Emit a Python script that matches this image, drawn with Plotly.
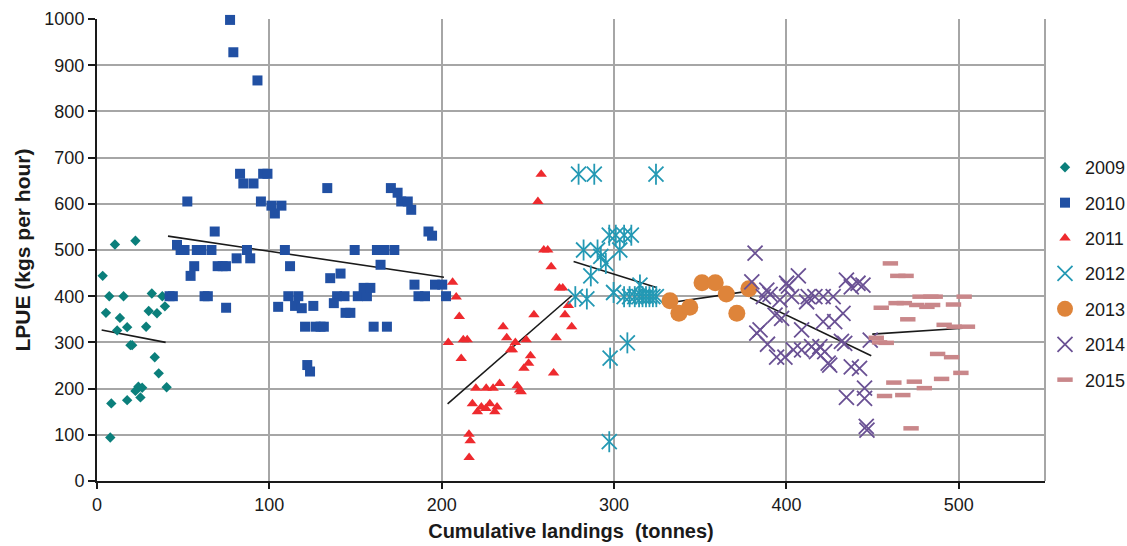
import plotly.graph_objects as go

# ---- data ----
x2009 = [3.3, 5.2, 7.1, 7.7, 8.3, 10.4, 11.7, 13.3, 15.4, 17.5, 17.5, 19.4, 20.4, 22.3, 22.3, 24.0, 25.2, 26.2,
         28.5, 30.0, 31.8, 33.5, 34.8, 35.8, 37.9, 39.4, 40.4]
y2009 = [444, 364, 400, 94, 168, 512, 326, 353, 400, 175, 333, 294, 294, 520, 195, 204, 181, 202,
         334, 368, 406, 268, 363, 233, 400, 378, 203]

x2010 = [77.2, 79.1, 93.1, 83.0, 84.9, 90.8, 96.4, 98.9, 52.4, 95.1, 101.2, 107.0, 103.2, 68.3, 46.4, 48.5,
         50.8, 57.9, 60.4, 66.4, 87.0, 109.0, 81.0, 88.9, 56.4, 54.3, 70.0, 72.9, 74.8, 42.1, 44.0, 62.4,
         64.3, 74.9, 105.1, 111.0, 112.0, 133.6, 170.5, 174.4, 176.5, 180.3, 182.3, 192.3, 194.4, 149.5,
         162.4, 166.5, 172.5, 164.5, 135.3, 141.3, 184.2, 196.1, 200.3, 116.8, 139.3, 143.6, 151.3, 156.6,
         154.7, 158.6, 186.5, 190.3, 202.5, 114.9, 118.8, 125.5, 137.4, 144.2, 147.0, 120.7, 126.8, 129.7,
         131.6, 160.5, 168.2, 122.0, 123.6]
y2010 = [998, 928, 867, 665, 644, 644, 665, 665, 605, 605, 596, 596, 579, 540, 511, 500,
         500, 500, 500, 500, 500, 500, 482, 482, 465, 444, 465, 465, 465, 400, 400, 400,
         400, 375, 377, 400, 465, 634, 634, 624, 605, 605, 587, 540, 531, 500,
         500, 500, 500, 468, 439, 449, 425, 425, 425, 400, 400, 400, 400, 400,
         418, 418, 400, 400, 400, 379, 374, 379, 385, 364, 364, 334, 334, 334,
         334, 334, 334, 251, 237]

x2011 = [257.7, 255.8, 259.2, 261.5, 263.5, 268.3, 270.2, 206.3, 208.4, 210.2, 203.8, 212.5, 214.8, 211.3,
         215.8, 216.5, 215.9, 219.8, 217.8, 220.7, 223.0, 225.8, 229.8, 227.9, 225.6, 230.8, 232.1, 233.6,
         235.6, 237.7, 242.7, 240.0, 241.0, 249.0, 253.5, 251.5, 250.4, 247.7, 243.8, 246.1, 245.2, 264.9,
         266.4, 271.5, 273.5, 275.4]
y2011 = [664, 605, 500, 500, 464, 418, 418, 430, 398, 356, 300, 306, 306, 265,
         101, 87, 51, 201, 167, 150, 160, 201, 201, 167, 157, 150, 160, 211,
         334, 310, 300, 284, 284, 306, 360, 271, 255, 244, 206, 193, 197, 234,
         310, 360, 380, 334]

x2012 = [279.4, 288.5, 324.3, 297.2, 301.0, 305.8, 310.0, 282.3, 290.4, 303.3, 292.3, 295.2, 286.5, 277.5,
         284.2, 299.7, 305.8, 309.0, 312.0, 314.5, 316.5, 318.5, 320.5, 322.5, 324.5, 315.0, 307.7, 297.7,
         297.2]
y2012 = [664, 664, 664, 532, 532, 532, 532, 500, 500, 500, 486, 471, 444, 399,
         394, 408, 399, 399, 399, 399, 399, 399, 399, 399, 399, 424, 299, 266,
         85]

x2013 = [332.4, 337.6, 343.9, 351.0, 358.7, 365.1, 371.2, 378.2]
y2013 = [390, 363, 376, 429, 429, 405, 363, 416]

x2014 = [381.8, 379.9, 390.5, 386.6, 396.2, 401.1, 406.9, 403.0, 393.4, 397.2, 384.7, 382.8, 389.0, 394.3,
         399.1, 404.0, 408.8, 408.8, 412.6, 416.5, 421.3, 427.1, 411.7, 414.6, 419.4, 417.4, 422.2, 421.3,
         428.0, 432.8, 424.2, 425.1, 431.9, 433.8, 434.8, 437.6, 441.5, 444.4, 437.6, 442.4, 434.8, 445.3,
         445.3, 446.3, 446.7, 448.6, 388.6, 400.1]
y2014 = [493, 431, 404, 399, 392, 422, 444, 399, 359, 352, 327, 320, 296, 268,
         268, 284, 284, 327, 399, 399, 399, 399, 388, 291, 291, 280, 280, 345,
         345, 363, 255, 251, 302, 298, 435, 420, 428, 424, 247, 244, 181, 201,
         179, 118, 110, 305, 413, 428]

x2015 = [460.3, 464.6, 469.4, 463.6, 468.4, 455.0, 477.5, 483.8, 486.3, 503.1, 475.6, 481.5, 484.8, 496.9,
         470.4, 491.5, 497.3, 505.0, 452.1, 457.9, 454.0, 487.7, 495.8, 501.2, 462.3, 474.2, 480.0, 490.0,
         456.9, 467.5, 472.3]
y2015 = [471, 444, 444, 385, 385, 375, 399, 399, 399, 399, 381, 377, 381, 382,
         350, 338, 334, 334, 310, 299, 300, 275, 268, 234, 213, 215, 201, 221,
         184, 186, 114]

# trend lines (start/end) per year
trend_x = {"2009": [2.7, 39.8], "2010": [41.2, 201.3], "2011": [203.4, 275.4], "2012": [276.5, 324.6],
           "2013": [332.2, 378.2], "2014": [378.8, 449.2], "2015": [449.8, 502.1]}
trend_y = {"2009": [327, 300], "2010": [530, 441], "2011": [167, 401], "2012": [475, 419],
           "2013": [386, 411], "2014": [397, 271], "2015": [318, 330.5]}

x_ticks = [0, 100, 200, 300, 400, 500]
y_ticks = [0, 100, 200, 300, 400, 500, 600, 700, 800, 900, 1000]

FONT = "Liberation Sans, Arial, sans-serif"

fig = go.Figure()

# trend lines first (drawn under markers)
for yr in trend_x:
    fig.add_trace(go.Scatter(x=trend_x[yr], y=trend_y[yr], mode="lines",
                             line=dict(color="#1a1a1a", width=1.6), showlegend=False, hoverinfo="skip"))

C2012 = "#2499B4"
series = [
    ("2009", x2009, y2009, dict(symbol="diamond", size=8, color="#0B7F7B")),
    ("2010", x2010, y2010, dict(symbol="square", size=10, color="#2150A3")),
    ("2011", x2011, y2011, dict(symbol="triangle-up", size=10, color="#EE2A2E")),
    ("2012", x2012, y2012, dict(symbol="x-thin-open", size=15, color=C2012,
                                line=dict(color=C2012, width=1.8))),
    ("2013", x2013, y2013, dict(symbol="circle", size=17, color="#DE843A")),
    ("2014", x2014, y2014, dict(symbol="x-thin-open", size=15, color="#6A5194",
                                line=dict(color="#6A5194", width=1.8))),
    ("2015", x2015, y2015, dict(symbol="line-ew-open", size=11, color="#C9878A",
                                line=dict(color="#C9878A", width=4.5))),
]

for name, xs, ys, mk in series:
    fig.add_trace(go.Scatter(x=xs, y=ys, mode="markers", name=name, marker=mk,
                             legendgroup=name, cliponaxis=False))
    if name == "2012":
        # vertical stroke completes the Excel-style star marker
        fig.add_trace(go.Scatter(x=xs, y=ys, mode="markers", showlegend=False, legendgroup=name,
                                 marker=dict(symbol="line-ns-open", size=15, color=C2012,
                                             line=dict(color=C2012, width=1.8)),
                                 cliponaxis=False, hoverinfo="skip"))

fig.update_layout(
    width=1127, height=546,
    margin=dict(l=97, r=78, t=19, b=65),
    paper_bgcolor="white", plot_bgcolor="white",
    font=dict(family=FONT, size=18, color="#1a1a1a"),
    showlegend=True,
    legend=dict(xref="container", x=1045 / 1127, xanchor="left",
                yref="paper", y=0.449, yanchor="middle",
                font=dict(family=FONT, size=18, color="#1a1a1a"),
                itemwidth=30, tracegroupgap=9, traceorder="grouped",
                bgcolor="rgba(0,0,0,0)"),
    xaxis=dict(range=[0, 550], tickvals=x_ticks, ticktext=[str(v) for v in x_ticks],
               showgrid=True, gridcolor="#A6A6A6", gridwidth=1.5,
               showline=True, linecolor="#1a1a1a", linewidth=2,
               ticks="outside", ticklen=6, tickcolor="#1a1a1a", tickwidth=1.5,
               zeroline=False, automargin=False,
               title=dict(text="<b>Cumulative landings  (tonnes)</b>", font=dict(size=20), standoff=10),
               tickfont=dict(size=18)),
    yaxis=dict(range=[0, 1000], tickvals=y_ticks, ticktext=[str(v) for v in y_ticks],
               showgrid=True, gridcolor="#A6A6A6", gridwidth=1.5,
               showline=True, linecolor="#1a1a1a", linewidth=2,
               ticks="outside", ticklen=7, tickcolor="#1a1a1a", tickwidth=1.5,
               zeroline=False, automargin=False,
               title=dict(text="<b>LPUE (kgs per hour)</b>", font=dict(size=21), standoff=8),
               tickfont=dict(size=18)),
)

# grey right border of the plot area
fig.add_shape(type="line", xref="paper", yref="paper", x0=1, x1=1, y0=0, y1=1,
              line=dict(color="#A6A6A6", width=2))

fig.write_html("out.html")
